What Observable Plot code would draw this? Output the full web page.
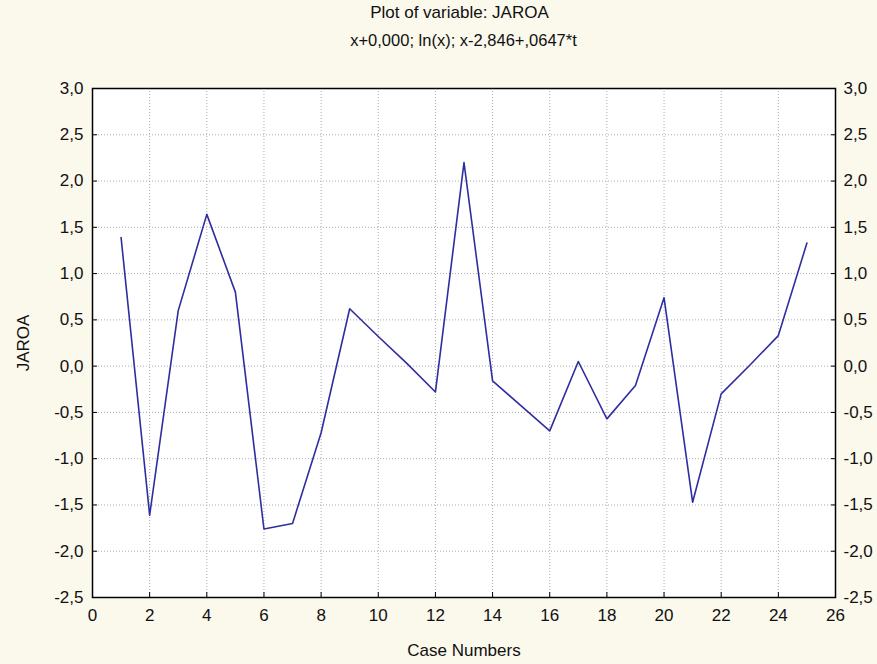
<!DOCTYPE html>
<html>
<head>
<meta charset="utf-8">
<script src="https://cdn.jsdelivr.net/npm/d3@7"></script>
<script src="https://cdn.jsdelivr.net/npm/@observablehq/plot@0.6"></script>
<style>
  html, body { margin: 0; padding: 0; background: #FBF8EC; }
  #wrap { width: 877px; height: 664px; overflow: hidden; font-family: "Liberation Sans", Arial, sans-serif; color: #111; }
  .t1 { height: 26px; line-height: 26px; text-align: center; font-size: 17px; padding-left: 42px; }
  .t2 { height: 28px; line-height: 28px; text-align: center; font-size: 16.5px; padding-left: 50px; }
</style>
</head>
<body>
<div id="wrap">
  <div class="t1">Plot of variable: JAROA</div>
  <div class="t2">x+0,000; ln(x); x-2,846+,0647*t</div>
  <div id="chart"></div>
</div>
<script>
const cases = [1,2,3,4,5,6,7,8,9,10,11,12,13,14,15,16,17,18,19,20,21,22,23,24,25];
const jaroa = [1.39,-1.61,0.60,1.64,0.80,-1.76,-1.70,-0.72,0.62,0.32,0.03,-0.28,2.20,-0.16,-0.43,-0.70,0.05,-0.57,-0.21,0.74,-1.47,-0.30,0.01,0.33,1.33];
const xTicks = [0,2,4,6,8,10,12,14,16,18,20,22,24,26];
const yTicks = [-2.5,-2.0,-1.5,-1.0,-0.5,0.0,0.5,1.0,1.5,2.0,2.5,3.0];

const data = cases.map((c, i) => ({case: c, value: jaroa[i]}));
const fmtY = v => d3.format(".1f")(v).replace(".", ",").replace("\u2212", "-");

const chart = Plot.plot({
  width: 877,
  height: 610,
  marginLeft: 92,
  marginRight: 42,
  marginTop: 34,
  marginBottom: 67,
  style: { fontFamily: "Liberation Sans, Arial, sans-serif", fontSize: "17px", background: "transparent", color: "#111" },
  x: { domain: [0, 26] },
  y: { domain: [-2.5, 3.0] },
  marks: [
    Plot.frame({ fill: "white", stroke: "none" }),
    Plot.gridX(xTicks, { stroke: "#999", strokeOpacity: 0.8, strokeDasharray: "1,2" }),
    Plot.gridY(yTicks, { stroke: "#999", strokeOpacity: 0.8, strokeDasharray: "1,2" }),
    Plot.line(data, { x: "case", y: "value", stroke: "#2E2EA0", strokeWidth: 1.6 }),
    Plot.axisX(xTicks, { anchor: "bottom", tickSize: -5, text: null, label: null, stroke: "#000" }),
    Plot.axisX(xTicks, { anchor: "bottom", tickSize: 0, tickPadding: 11, tickFormat: d => String(d), label: "Case Numbers", labelAnchor: "center", labelArrow: "none", labelOffset: 58, fontSize: 17 }),
    Plot.axisY(yTicks, { anchor: "left", tickSize: -5, text: null, label: null, stroke: "#000" }),
    Plot.axisY(yTicks, { anchor: "left", tickSize: 0, tickPadding: 9, tickFormat: fmtY, label: "JAROA", labelAnchor: "center", labelArrow: "none", labelOffset: 76, fontSize: 17 }),
    Plot.axisY(yTicks, { anchor: "right", tickSize: -5, text: null, label: null, stroke: "#000" }),
    Plot.axisY(yTicks, { anchor: "right", tickSize: 0, tickPadding: 8, tickFormat: fmtY, label: null, fontSize: 17 }),
    Plot.frame({ stroke: "#000", strokeWidth: 1.5 })
  ]
});
document.getElementById("chart").appendChild(chart);
</script>
</body>
</html>
